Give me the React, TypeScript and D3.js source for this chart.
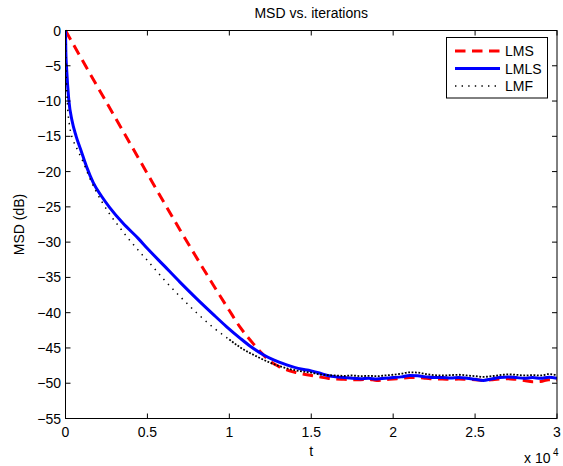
import React from "react";
import * as d3 from "d3";

// ---- data (t in units of 10^4 iterations, MSD in dB) ----
const tFloor = [1.5, 1.55, 1.6, 1.65, 1.7, 1.75, 1.8, 1.85, 1.9, 1.95, 2.0, 2.05, 2.1, 2.15, 2.2, 2.25, 2.3, 2.35, 2.4, 2.45, 2.5, 2.55, 2.6, 2.65, 2.7, 2.75, 2.8, 2.85, 2.9, 2.95, 3.0];

const tLMSDecay = [0, 0.1, 0.3, 0.5, 0.7, 0.9, 1.0, 1.07, 1.15, 1.2, 1.25, 1.3, 1.35, 1.4, 1.45];
const lmsDecay = [0, -4.1, -12.2, -20.3, -28.3, -36.0, -39.7, -42.2, -44.5, -45.8, -46.9, -47.6, -48.1, -48.45, -48.7];
const lmsFloor = [-48.9, -49.1, -49.3, -49.4, -49.45, -49.5, -49.5, -49.45, -49.6, -49.5, -49.4, -49.3, -49.2, -49.2, -49.3, -49.4, -49.4, -49.45, -49.4, -49.45, -49.5, -49.6, -49.5, -49.4, -49.35, -49.45, -49.6, -49.8, -49.75, -49.5, -49.55];

const tLMLSDecay = [0, 0.002, 0.007, 0.02, 0.04, 0.065, 0.093, 0.13, 0.17, 0.22, 0.27, 0.35, 0.445, 0.5, 0.6, 0.7, 0.8, 0.9, 0.984, 1.065, 1.13, 1.21, 1.27, 1.35, 1.42];
const lmlsDecay = [0, -3, -5.5, -9.8, -12.8, -15, -16.9, -19.4, -21.6, -23.5, -25.1, -27.3, -29.5, -30.9, -33.3, -35.7, -38.0, -40.2, -42.0, -43.6, -44.8, -46.0, -46.7, -47.4, -47.9];
const lmlsFloor = [-48.25, -48.55, -48.9, -49.1, -49.2, -49.3, -49.35, -49.3, -49.4, -49.3, -49.2, -49.1, -48.9, -48.95, -49.1, -49.2, -49.2, -49.25, -49.2, -49.3, -49.45, -49.6, -49.4, -49.2, -49.1, -49.2, -49.3, -49.2, -49.3, -49.15, -49.3];

const tLMFDecay = [0, 0.002, 0.006, 0.012, 0.027, 0.048, 0.075, 0.109, 0.14, 0.18, 0.22, 0.272, 0.32, 0.373, 0.45, 0.5, 0.597, 0.699, 0.8, 0.902, 1.0, 1.065, 1.167, 1.25, 1.37, 1.45];
const lmfDecay = [0, -4, -7.5, -10.5, -13.8, -15.6, -17.0, -18.7, -20.5, -22.5, -24.2, -26.1, -27.6, -29.2, -31.3, -32.6, -35.2, -37.7, -40.0, -42.1, -43.8, -44.9, -46.2, -47.1, -48.0, -48.35];
const lmfFloor = [-48.5, -48.75, -48.85, -48.9, -48.95, -48.9, -49.0, -48.95, -49.0, -48.9, -48.8, -48.65, -48.45, -48.5, -48.7, -48.85, -48.9, -48.85, -48.8, -48.9, -49.0, -49.1, -49.0, -48.85, -48.75, -48.8, -48.9, -48.85, -48.9, -48.7, -48.85];

const xTicks = [0, 0.5, 1, 1.5, 2, 2.5, 3];
const yTicks = [0, -5, -10, -15, -20, -25, -30, -35, -40, -45, -50, -55];
const seriesNames = ["LMS", "LMLS", "LMF"];

const W = 563;
const H = 466;
const L = 65.5;
const R = 557;
const T = 30.5;
const B = 418.5;
const FONT = "'Liberation Sans', Arial, Helvetica, sans-serif";

export default function App() {
  const x = d3.scaleLinear().domain([0, 3]).range([L, R]);
  const y = d3.scaleLinear().domain([-55, 0]).range([B, T]);
  const line = d3
    .line<[number, number]>()
    .x((d) => x(d[0]))
    .y((d) => y(d[1]))
    .curve(d3.curveMonotoneX);

  const zip = (ts: number[], vs: number[]) => ts.map((t, i) => [t, vs[i]] as [number, number]);
  const lms = zip([...tLMSDecay, ...tFloor], [...lmsDecay, ...lmsFloor]);
  const lmls = zip([...tLMLSDecay, ...tFloor], [...lmlsDecay, ...lmlsFloor]);
  const lmf = zip([...tLMFDecay, ...tFloor], [...lmfDecay, ...lmfFloor]);
  // dotted pattern looks sparse on the smooth descent and dense on the noisy floor
  const lmfEarly = lmf.filter((d) => d[0] <= 1.0);
  const lmfLate = lmf.filter((d) => d[0] >= 1.0);

  const styles = [
    { stroke: "#ff0000", width: 3, dash: "10.5,6.5" },
    { stroke: "#0000ff", width: 3, dash: "" },
    { stroke: "#000000", width: 1.5, dash: "1.4,5.2" },
  ];
  const legendY = [51, 68.5, 86];

  return (
    <div style={{ position: "fixed", left: 0, top: 0 }}>
      <svg width={W} height={H} style={{ display: "block", background: "#fff" }} fontFamily={FONT}>
        <rect x={0} y={0} width={W} height={H} fill="#fff" />
        <defs>
          <clipPath id="plotclip">
            <rect x={L} y={T - 2} width={R - L} height={B - T + 4} />
          </clipPath>
        </defs>
        <g clipPath="url(#plotclip)">
          <path d={line(lms) || ""} fill="none" stroke={styles[0].stroke} strokeWidth={styles[0].width} strokeDasharray={styles[0].dash} />
          <path d={line(lmls) || ""} fill="none" stroke={styles[1].stroke} strokeWidth={styles[1].width} strokeLinejoin="round" />
          <path d={line(lmfEarly) || ""} fill="none" stroke={styles[2].stroke} strokeWidth={styles[2].width} strokeDasharray={styles[2].dash} />
          <path d={line(lmfLate) || ""} fill="none" stroke={styles[2].stroke} strokeWidth={1.8} strokeDasharray="1.8,1.6" />
        </g>
        {/* axes box */}
        <rect x={L} y={T} width={R - L} height={B - T} fill="none" stroke="#000" strokeWidth={1} />
        {xTicks.map((t) => (
          <g key={"x" + t}>
            <line x1={x(t)} x2={x(t)} y1={B} y2={B - 5} stroke="#000" />
            <line x1={x(t)} x2={x(t)} y1={T} y2={T + 5} stroke="#000" />
            <text x={x(t)} y={437} textAnchor="middle" fontSize={14}>{String(t)}</text>
          </g>
        ))}
        {yTicks.map((v) => (
          <g key={"y" + v}>
            <line x1={L} x2={L + 5} y1={y(v)} y2={y(v)} stroke="#000" />
            <line x1={R} x2={R - 5} y1={y(v)} y2={y(v)} stroke="#000" />
            <text x={61} y={y(v) + 5} textAnchor="end" fontSize={14}>{v < 0 ? "\u2212" + Math.abs(v) : "0"}</text>
          </g>
        ))}
        <text x={(L + R) / 2} y={17.5} textAnchor="middle" fontSize={14}>MSD vs. iterations</text>
        <text x={(L + R) / 2} y={456} textAnchor="middle" fontSize={14}>t</text>
        <text x={524} y={463} fontSize={14}>x 10</text>
        <text x={553} y={456} fontSize={10}>4</text>
        <text transform={`translate(24, ${(T + B) / 2}) rotate(-90)`} textAnchor="middle" fontSize={14}>MSD (dB)</text>
        {/* legend */}
        <rect x={446.5} y={37.5} width={101} height={60.5} fill="#fff" stroke="#000" strokeWidth={1} />
        {seriesNames.map((n, i) => (
          <g key={n}>
            <line x1={455} x2={500} y1={legendY[i]} y2={legendY[i]} stroke={styles[i].stroke} strokeWidth={styles[i].width} strokeDasharray={styles[i].dash || undefined} />
            <text x={505} y={legendY[i] + 5} fontSize={14}>{n}</text>
          </g>
        ))}
      </svg>
    </div>
  );
}
